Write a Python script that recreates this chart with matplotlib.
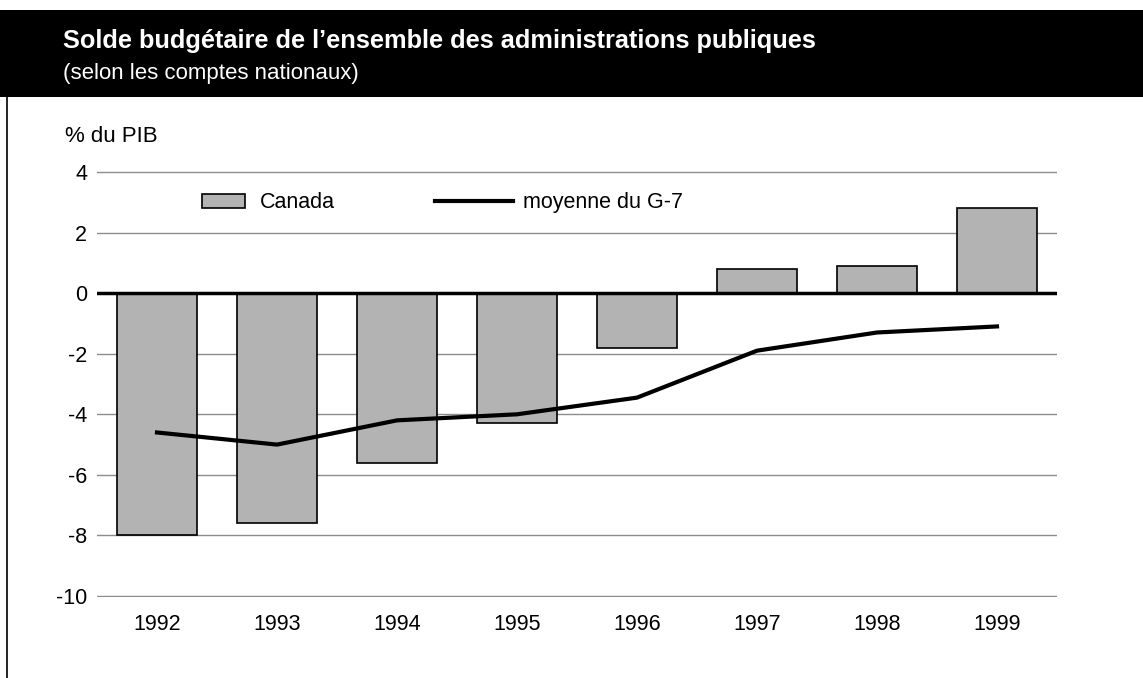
import matplotlib
matplotlib.use('Agg')
import matplotlib.pyplot as plt
from matplotlib.patches import Rectangle, Patch
from matplotlib.lines import Line2D
import numpy as np

years = ['1992', '1993', '1994', '1995', '1996', '1997', '1998', '1999']
canada = [-8.0, -7.6, -5.6, -4.3, -1.8, 0.8, 0.9, 2.8]
g7_average = [-4.6, -5.0, -4.2, -4.0, -3.45, -1.9, -1.3, -1.1]
y_ticks = [4, 2, 0, -2, -4, -6, -8, -10]

W, H = 1143, 678
plt.rcParams['font.family'] = ['Liberation Sans', 'DejaVu Sans']

fig = plt.figure(figsize=(W / 100, H / 100), dpi=100)

# Header band
fig.patches.append(Rectangle((0, 1 - 97 / H), 1, 87 / H, transform=fig.transFigure,
                             facecolor='black', edgecolor='none', zorder=0))
fig.text(63 / W, 1 - 48 / H, 'Solde budgétaire de l\u2019ensemble des administrations publiques',
         color='white', fontsize=18.3, fontweight='bold',
         va='baseline', ha='left')
fig.text(63 / W, 1 - 73 / H, '(selon les comptes nationaux)', color='white',
         fontsize=16, va='center', ha='left')

# Left border
fig.add_artist(Line2D([7 / W, 7 / W], [0, 1 - 97 / H], transform=fig.transFigure,
                      color='black', linewidth=1.2))

ax = fig.add_axes([97 / W, 1 - 597 / H, 960 / W, 426 / H])
x = np.arange(len(years))

ax.bar(x, canada, width=0.667, color='#b3b3b3', edgecolor='black', linewidth=1.2, zorder=3)
ax.plot(x, g7_average, color='black', linewidth=3, zorder=4)
ax.axhline(0, color='black', linewidth=2.5, zorder=5)

ax.set_xlim(-0.5, len(years) - 0.5)
ax.set_ylim(-10.03, 4.03)
ax.set_yticks(y_ticks)
ax.set_yticklabels([str(v) for v in y_ticks])
ax.set_xticks(x)
ax.set_xticklabels(years)
ax.tick_params(axis='both', length=0, labelsize=15.5)
ax.tick_params(axis='y', pad=7)
ax.tick_params(axis='x', pad=12)
ax.yaxis.grid(True, color='#8c8c8c', linewidth=1)
ax.set_axisbelow(True)
for s in ax.spines.values():
    s.set_visible(False)

fig.text(65 / W, 1 - 137 / H, '% du PIB', fontsize=16, va='center', ha='left')

leg1 = ax.legend(handles=[Patch(facecolor='#b3b3b3', edgecolor='black', linewidth=1.2)],
                 labels=['Canada'], loc='center left', bbox_to_anchor=(0.109, 0.925),
                 frameon=False, fontsize=15.5, borderpad=0, borderaxespad=0,
                 handlelength=2.0, handleheight=0.65, handletextpad=0.7)
ax.add_artist(leg1)
ax.legend(handles=[Line2D([], [], color='black', linewidth=3)],
          labels=['moyenne du G-7'], loc='center left', bbox_to_anchor=(0.352, 0.925),
          frameon=False, fontsize=15.5, borderpad=0, borderaxespad=0,
          handlelength=3.65, handletextpad=0.42)

fig.savefig('out.png', dpi=100)
